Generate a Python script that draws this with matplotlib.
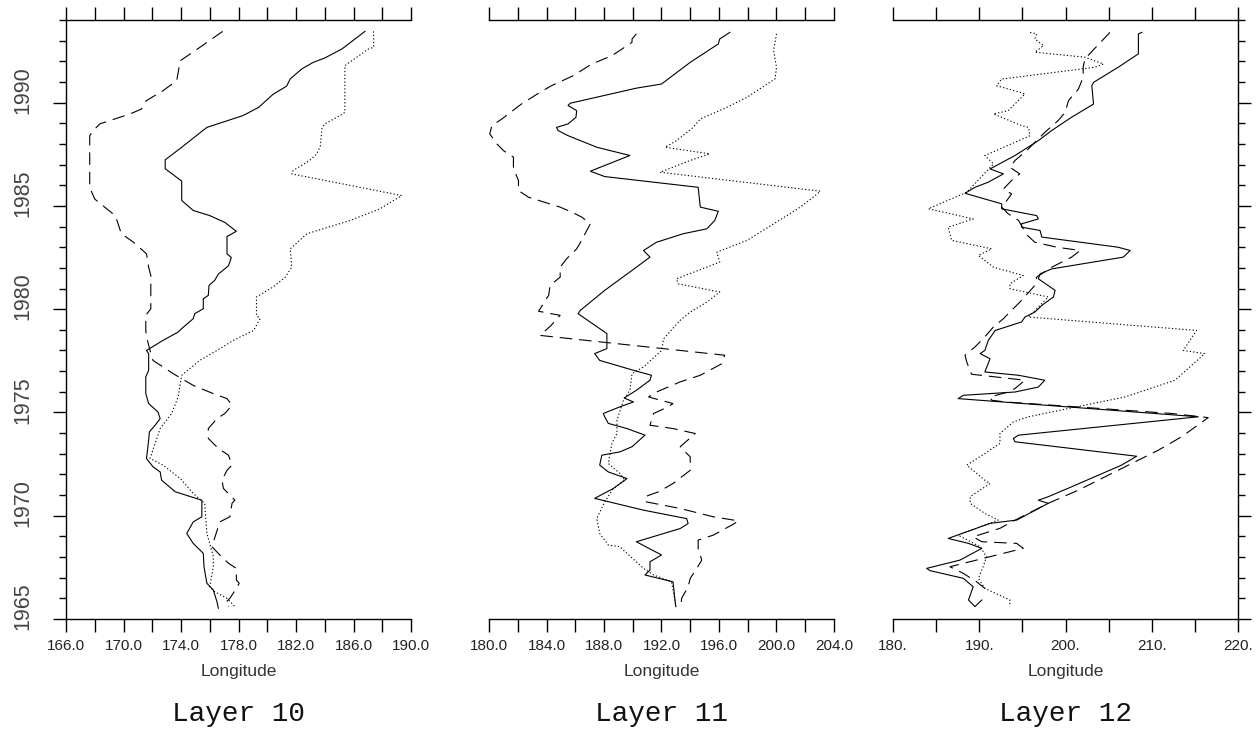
import matplotlib
matplotlib.use('agg')
import matplotlib.pyplot as plt
import matplotlib.transforms as mtransforms
import numpy as np

# ---- Layer 10 ----
l10_solid_lon = [186.8, 185.2, 184.0, 183.2, 182.4, 181.6, 181.35, 180.4, 179.4, 178.3,
                 175.8, 174.05, 173.6, 172.9, 172.9, 174.05, 174.05, 174.85, 176.0, 177.05,
                 177.85, 177.2, 177.2, 177.5, 177.3, 176.6, 176.35, 175.95, 175.9, 175.55,
                 175.55, 174.95, 174.85, 174.05, 173.8, 172.75, 171.6, 171.75, 171.75, 171.55,
                 171.55, 171.75, 172.4, 172.55, 172.2, 171.8, 171.75, 171.6, 172.05, 172.55,
                 172.65, 173.6, 175.45, 175.45, 174.85, 174.4, 174.85, 175.55, 175.6, 175.8,
                 176.25, 176.5, 176.6]
l10_solid_yr = [1993.45, 1992.6, 1992.16, 1991.95, 1991.63, 1991.15, 1990.8, 1990.4, 1989.77, 1989.37,
                1988.8, 1987.84, 1987.6, 1987.23, 1986.8, 1986.2, 1985.26, 1984.78, 1984.53, 1984.2,
                1983.77, 1983.52, 1982.68, 1982.5, 1982.1, 1981.7, 1981.4, 1981.15, 1980.67, 1980.5,
                1980.02, 1979.78, 1979.54, 1979.06, 1978.89, 1978.49, 1978.0, 1977.85, 1977.04, 1976.72,
                1975.91, 1975.43, 1975.02, 1974.7, 1974.38, 1974.06, 1973.66, 1972.77, 1972.37, 1972.12,
                1971.72, 1971.16, 1970.75, 1969.95, 1969.7, 1969.14, 1968.66, 1968.18, 1967.53, 1966.73,
                1966.4, 1965.84, 1965.52]

l10_dot_lon = [187.4, 187.4, 187.05, 185.4, 185.4, 185.05, 184.0, 183.8, 183.7, 183.45,
               182.95, 181.8, 181.7, 189.35, 187.85, 185.75, 182.75, 181.6, 181.7, 181.25,
               180.4, 179.25, 179.25, 179.5, 179.05, 177.65, 176.5, 175.3, 174.05, 173.8,
               173.35, 172.55, 171.85, 172.75, 173.95, 174.85, 175.65, 175.8, 176.0, 176.25,
               176.25, 176.0, 176.35, 177.2, 177.75]
l10_dot_yr = [1993.45, 1992.68, 1992.6, 1991.79, 1989.53, 1989.37, 1988.97, 1988.73, 1987.92, 1987.52,
              1987.2, 1986.71, 1986.55, 1985.5, 1984.86, 1984.29, 1983.65, 1982.92, 1982.03, 1981.55,
              1981.07, 1980.59, 1979.7, 1979.54, 1978.97, 1978.49, 1978.0, 1977.52, 1976.8, 1975.75,
              1974.95, 1974.22, 1972.77, 1972.45, 1971.8, 1971.08, 1970.6, 1969.14, 1968.66, 1968.01,
              1967.53, 1966.56, 1966.32, 1966.0, 1965.6]

l10_dash_lon = [176.9, 174.95, 173.95, 173.7, 172.75, 171.6, 171.25, 170.45, 168.35, 167.9,
                167.65, 167.65, 168.0, 169.3, 169.55, 169.85, 170.7, 171.6, 171.75, 171.9,
                171.9, 171.55, 171.55, 171.6, 171.85, 172.05, 173.45, 174.85, 176.25, 177.2,
                177.55, 177.05, 176.5, 175.9, 175.9, 176.6, 177.3, 177.55, 177.2, 176.85,
                176.95, 177.75, 177.55, 177.4, 176.7, 176.15, 176.7, 177.3, 177.85, 177.85,
                178.05, 177.85, 177.4, 177.05, 177.3]
l10_dash_yr = [1993.45, 1992.5, 1992.03, 1991.06, 1990.58, 1990.1, 1989.69, 1989.45, 1988.97, 1988.65,
               1988.4, 1985.9, 1985.33, 1984.6, 1984.29, 1983.65, 1983.24, 1982.68, 1982.03, 1981.63,
               1980.02, 1979.7, 1978.97, 1978.65, 1978.0, 1977.52, 1976.88, 1976.31, 1975.91, 1975.67,
               1975.35, 1974.95, 1974.7, 1974.22, 1973.74, 1973.26, 1972.93, 1972.45, 1972.2, 1971.72,
               1971.32, 1970.75, 1970.6, 1969.95, 1969.7, 1968.5, 1968.1, 1967.7, 1967.45, 1966.89,
               1966.73, 1966.48, 1966.0, 1965.76, 1965.6]

# ---- Layer 11 ----
l11_solid_lon = [196.75, 196.05, 195.95, 194.0, 192.0, 190.25, 185.65, 185.5, 186.1, 186.05,
                 185.5, 184.7, 184.8, 185.5, 187.5, 189.8, 187.05, 188.05, 194.55, 194.7,
                 195.95, 195.7, 195.15, 193.5, 191.65, 190.75, 191.2, 190.25, 188.05, 186.35,
                 186.2, 188.2, 188.2, 187.35, 187.7, 190.05, 191.3, 191.2, 190.25, 189.4,
                 190.05, 189.1, 187.95, 188.05, 188.3, 189.6, 190.85, 189.95, 189.1, 187.85,
                 187.7, 188.3, 189.6, 188.65, 187.35, 190.75, 193.75, 193.85, 193.3, 190.25,
                 192.0, 191.2, 191.2, 190.85, 192.8, 192.95, 193.0]
l11_solid_yr = [1993.4, 1993.08, 1992.84, 1991.95, 1990.9, 1990.7, 1989.97, 1989.86, 1989.61, 1989.29,
                1988.97, 1988.8, 1988.65, 1988.4, 1987.84, 1987.44, 1986.68, 1986.42, 1985.9, 1984.94,
                1984.74, 1984.29, 1983.89, 1983.65, 1983.24, 1982.84, 1982.52, 1982.03, 1980.91, 1979.94,
                1979.78, 1978.82, 1978.09, 1977.85, 1977.52, 1977.04, 1976.8, 1976.56, 1976.07, 1975.7,
                1975.51, 1975.27, 1974.95, 1974.79, 1974.47, 1974.22, 1973.9, 1973.34, 1973.09, 1972.93,
                1972.45, 1972.12, 1971.8, 1971.32, 1970.84, 1970.27, 1969.86, 1969.62, 1969.38, 1968.74,
                1968.1, 1967.77, 1967.37, 1967.13, 1966.8, 1965.84, 1965.6]

l11_dot_lon = [200.0, 199.8, 200.0, 199.9, 197.95, 196.3, 194.7, 194.2, 193.05, 192.25,
               195.35, 194.0, 191.9, 203.05, 202.55, 201.65, 199.8, 197.95, 195.85, 196.05,
               193.05, 193.15, 196.05, 195.15, 194.0, 193.3, 192.15, 192.0, 190.75, 189.95,
               189.8, 189.35, 188.9, 188.9, 188.55, 188.3, 189.1, 189.45, 188.65, 188.05,
               187.5, 187.7, 188.3, 189.1, 190.75, 191.45, 192.7, 192.95, 193.0]
l11_dot_yr = [1993.33, 1992.52, 1991.71, 1991.15, 1990.26, 1989.69, 1989.21, 1988.8, 1988.16, 1987.84,
              1987.52, 1987.2, 1986.63, 1985.71, 1985.42, 1984.94, 1984.13, 1983.33, 1982.76, 1982.28,
              1981.47, 1981.23, 1980.83, 1980.34, 1979.86, 1979.46, 1978.57, 1978.0, 1977.2, 1976.88,
              1976.07, 1975.59, 1974.62, 1973.98, 1973.5, 1972.53, 1972.05, 1971.72, 1971.32, 1970.67,
              1969.87, 1969.14, 1968.58, 1968.5, 1967.45, 1967.13, 1966.8, 1965.84, 1965.6]

l11_dash_lon = [190.25, 189.95, 189.95, 188.55, 187.15, 185.85, 184.35, 183.55, 182.25, 180.9,
                180.2, 180.05, 180.55, 181.0, 181.7, 181.7, 182.05, 182.05, 182.75, 184.95,
                185.75, 186.45, 187.05, 186.8, 186.45, 186.1, 185.4, 184.95, 184.95, 184.25,
                184.15, 183.45, 184.95, 184.3, 183.55, 196.4, 196.2, 194.7, 193.3, 191.65,
                191.1, 192.8, 192.45, 191.45, 191.2, 192.8, 194.35, 193.3, 194.0, 194.0,
                192.8, 191.8, 190.85, 190.95, 193.3, 195.6, 197.35, 197.0, 195.6, 194.55,
                194.55, 194.8, 194.45, 194.0, 193.85, 193.4, 193.35]
l11_dash_yr = [1993.33, 1993.08, 1992.92, 1992.27, 1991.87, 1991.3, 1990.82, 1990.5, 1989.93, 1989.21,
               1988.89, 1988.49, 1988.0, 1987.68, 1987.36, 1986.8, 1986.23, 1985.74, 1985.42, 1984.94,
               1984.7, 1984.46, 1984.13, 1983.81, 1983.33, 1982.92, 1982.44, 1982.03, 1981.55, 1981.15,
               1980.67, 1979.9, 1979.7, 1979.2, 1978.73, 1977.77, 1977.36, 1976.8, 1976.48, 1975.99,
               1975.75, 1975.43, 1975.27, 1974.95, 1974.38, 1974.22, 1973.98, 1973.34, 1972.85, 1972.2,
               1971.56, 1971.16, 1970.92, 1970.67, 1970.35, 1969.95, 1969.75, 1969.59, 1969.06, 1968.82,
               1968.42, 1967.85, 1967.45, 1966.97, 1966.56, 1966.0, 1965.6]

# ---- Layer 12 ----
l12_solid_lon = [208.85, 208.45, 208.45, 206.1, 203.25, 203.05, 203.25, 200.7, 198.4, 196.85,
                 194.15, 191.25, 192.8, 191.05, 189.5, 188.35, 192.6, 192.6, 196.65, 196.85,
                 194.9, 194.9, 197.05, 197.25, 206.1, 207.5, 206.7, 198.4, 197.05, 196.85,
                 198.8, 198.6, 197.25, 196.45, 195.3, 194.9, 191.85, 191.05, 190.65, 190.1,
                 191.25, 190.65, 194.55, 197.6, 196.85, 194.15, 188.15, 187.55, 215.4, 194.55,
                 193.95, 194.15, 208.25, 206.5, 200.7, 198.0, 196.85, 198.0, 194.35, 191.25,
                 186.4, 188.75, 190.3, 187.75, 183.9, 184.3, 188.15, 189.3, 188.75, 189.5,
                 190.3]
l12_solid_yr = [1993.4, 1993.33, 1992.36, 1991.71, 1990.98, 1990.82, 1989.93, 1989.29, 1988.65, 1988.16,
                1987.44, 1986.79, 1986.55, 1986.15, 1985.9, 1985.61, 1985.1, 1984.86, 1984.53, 1984.37,
                1984.13, 1983.97, 1983.81, 1983.49, 1983.0, 1982.84, 1982.52, 1981.95, 1981.71, 1981.47,
                1980.91, 1980.59, 1980.18, 1979.86, 1979.62, 1979.38, 1978.97, 1978.49, 1978.0, 1977.85,
                1977.6, 1976.96, 1976.8, 1976.56, 1976.23, 1975.99, 1975.83, 1975.67, 1974.79, 1973.9,
                1973.74, 1973.58, 1972.88, 1972.45, 1971.4, 1970.92, 1970.75, 1970.6, 1969.79, 1969.63,
                1968.9, 1968.66, 1968.42, 1967.85, 1967.45, 1967.34, 1966.97, 1966.56, 1965.92, 1965.6,
                1965.92]

l12_dot_lon = [195.9, 196.65, 196.45, 197.45, 196.45, 202.25, 204.4, 203.4, 192.6, 192.0,
               194.7, 195.3, 193.35, 191.65, 194.9, 195.7, 195.9, 190.65, 191.65, 188.55,
               184.1, 189.3, 186.4, 186.8, 191.45, 189.9, 191.65, 195.1, 193.55, 193.55,
               198.0, 195.7, 215.2, 213.65, 216.15, 212.7, 206.9, 200.35, 195.7, 193.95,
               192.4, 192.4, 190.65, 188.55, 190.65, 191.25, 188.95, 188.95, 190.65, 192.2,
               187.55, 190.1, 190.85, 190.45, 189.9, 190.65, 193.55, 193.55]
l12_dot_yr = [1993.4, 1993.33, 1993.08, 1992.76, 1992.44, 1992.2, 1991.87, 1991.71, 1991.14, 1990.82,
              1990.5, 1990.42, 1989.61, 1989.45, 1988.89, 1988.8, 1988.4, 1987.44, 1987.03, 1985.66,
              1984.86, 1984.37, 1983.97, 1983.33, 1982.92, 1982.6, 1982.03, 1981.63, 1981.23, 1980.99,
              1980.59, 1979.62, 1978.97, 1978.0, 1977.85, 1976.56, 1975.75, 1975.19, 1974.79, 1974.54,
              1973.98, 1973.5, 1973.01, 1972.45, 1971.72, 1971.56, 1970.92, 1970.6, 1970.11, 1969.79,
              1969.06, 1968.5, 1968.01, 1967.53, 1966.97, 1966.48, 1965.92, 1965.6]

l12_dash_lon = [205.15, 202.25, 202.05, 202.05, 201.5, 200.35, 199.95, 199.15, 197.6, 196.85,
                195.5, 194.15, 193.55, 194.7, 193.75, 192.8, 193.75, 193.2, 192.6, 193.35,
                194.55, 195.5, 196.45, 199.0, 201.7, 200.7, 198.4, 196.65, 196.45, 194.7,
                193.55, 192.8, 191.65, 190.45, 189.5, 188.35, 188.55, 189.1, 195.3, 194.15,
                193.35, 191.25, 191.45, 193.0, 212.3, 216.55, 213.45, 210.75, 208.45, 206.1,
                201.5, 198.0, 194.55, 192.4, 189.3, 190.3, 194.35, 195.1, 186.6, 188.15,
                189.7, 190.65]
l12_dash_yr = [1993.4, 1992.12, 1991.71, 1991.23, 1990.66, 1990.1, 1989.53, 1989.13, 1988.56, 1988.24,
               1987.68, 1987.2, 1986.87, 1986.55, 1986.23, 1985.82, 1985.58, 1985.26, 1984.94, 1984.62,
               1984.3, 1983.6, 1983.24, 1983.0, 1982.84, 1982.52, 1982.03, 1981.55, 1981.15, 1980.34,
               1979.86, 1979.54, 1979.14, 1978.57, 1978.17, 1977.77, 1977.44, 1976.85, 1976.56, 1976.16,
               1975.99, 1975.75, 1975.59, 1975.51, 1974.95, 1974.75, 1973.82, 1973.17, 1972.69, 1972.2,
               1971.24, 1970.6, 1969.87, 1969.39, 1968.98, 1968.74, 1968.66, 1968.42, 1967.53, 1967.21,
               1966.8, 1966.48]

titles = ["Layer 10", "Layer 11", "Layer 12"]
xlims = [(166, 190), (180, 204), (180, 220)]
xtick_step = [2, 2, 5]
xlabel_step = [4, 4, 10]
xlabel_fmt = ["%.1f", "%.1f", "%d."]
year_major = [1965, 1970, 1975, 1980, 1985, 1990]
ylim = (1965, 1994)

series = [
    [(l10_solid_lon, l10_solid_yr), (l10_dot_lon, l10_dot_yr), (l10_dash_lon, l10_dash_yr)],
    [(l11_solid_lon, l11_solid_yr), (l11_dot_lon, l11_dot_yr), (l11_dash_lon, l11_dash_yr)],
    [(l12_solid_lon, l12_solid_yr), (l12_dot_lon, l12_dot_yr), (l12_dash_lon, l12_dash_yr)],
]

plt.rcParams['lines.scale_dashes'] = False
styles = [dict(linestyle='-'),
          dict(linestyle=(0, (0.9, 1.6))),
          dict(linestyle=(0, (9, 5)))]

tick_font = ['Liberation Sans', 'DejaVu Sans']
W, H = 1257.0, 730.0
lefts = [66, 489, 893]

fig = plt.figure(figsize=(12.57, 7.30), dpi=100)

for i in range(3):
    ax = fig.add_axes([lefts[i] / W, 111 / H, 345 / W, 599 / H])
    for (lon, yr), st in zip(series[i], styles):
        ax.plot(lon, yr, color='black', lw=0.8, **st)

    x0, x1 = xlims[i]
    ax.set_xlim(x0, x1)
    ax.set_ylim(*ylim)

    xt = np.arange(x0, x1 + 0.01, xtick_step[i])
    labels = []
    for v in xt:
        if (v - x0) % xlabel_step[i] == 0:
            labels.append(xlabel_fmt[i] % v)
        else:
            labels.append("")
    ax.set_xticks(xt)
    ax.set_xticklabels(labels, fontfamily=tick_font, fontsize=11, color='#222222')
    ax.tick_params(axis='x', which='major', direction='out', length=9.5, width=1.0,
                   top=True, bottom=True, labelbottom=True, labeltop=False, pad=5)
    ax.set_xlabel("Longitude", fontfamily=tick_font, fontsize=12.5, color='#333333', labelpad=8)

    for s in ['top', 'bottom', 'left', 'right']:
        ax.spines[s].set_linewidth(1.0)

    if i == 0:
        ax.spines['right'].set_visible(False)
        ax.set_yticks(year_major)
        ax.set_yticks(np.arange(1965, 1995, 1), minor=True)
        ax.set_yticklabels([str(y) for y in year_major], fontfamily=tick_font,
                           fontsize=15.5, color='#444444', rotation=90, va='center')
        ax.tick_params(axis='y', which='major', direction='out', length=9.5, width=1.0, pad=14)
        ax.tick_params(axis='y', which='minor', direction='out', length=5, width=1.0)
        offset = mtransforms.ScaledTranslation(0, 12.7 / 100.0, fig.dpi_scale_trans)
        for lab in ax.get_yticklabels():
            lab.set_transform(lab.get_transform() + offset)
    elif i == 1:
        ax.spines['left'].set_visible(False)
        ax.spines['right'].set_visible(False)
        ax.set_yticks([])
    else:
        ax.spines['left'].set_visible(False)
        ax.set_yticks(year_major)
        ax.set_yticks(np.arange(1965, 1995, 1), minor=True)
        ax.tick_params(axis='y', which='both', left=False, right=True,
                       labelleft=False, labelright=False, direction='out', width=1.0)
        ax.tick_params(axis='y', which='major', length=9.5)
        ax.tick_params(axis='y', which='minor', length=5)

    ax.text(0.5, (619 - 714) / 599.0, titles[i], transform=ax.transAxes,
            ha='center', va='center', fontsize=20, color='#111111',
            fontfamily=['Liberation Mono', 'DejaVu Sans Mono'])

fig.savefig('out.png', dpi=100)
